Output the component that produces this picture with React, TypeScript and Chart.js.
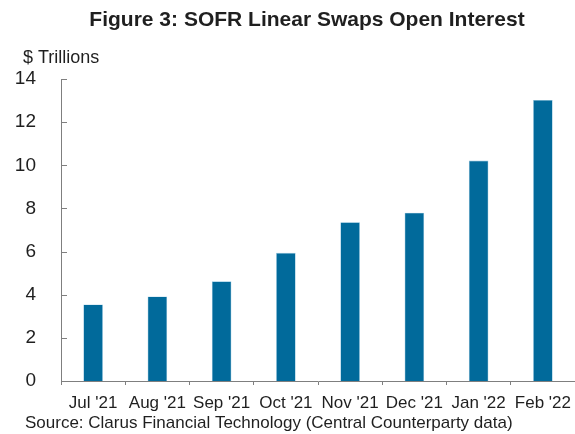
import React, { useEffect, useRef } from "react";
import { Chart, registerables } from "chart.js";

Chart.register(...registerables);

const categories = ["Jul '21", "Aug '21", "Sep '21", "Oct '21", "Nov '21", "Dec '21", "Jan '22", "Feb '22"];
const openInterest = [3.55, 3.92, 4.62, 5.94, 7.36, 7.8, 10.22, 13.03];
const yTicks = [0, 2, 4, 6, 8, 10, 12, 14];

const titleText = "Figure 3: SOFR Linear Swaps Open Interest";
const unitText = "$ Trillions";
const sourceText = "Source: Clarus Financial Technology (Central Counterparty data)";

const FONT = "'Liberation Sans', Arial, Helvetica, sans-serif";
const TEXT = "#1f1f1f";
const AXIS = "#7f7f7f";

const decorPlugin = {
  id: "decor",
  afterDraw(chart: any) {
    const ctx = chart.ctx;
    const y = chart.scales.y;
    const area = chart.chartArea;
    ctx.save();
    // inward y tick marks
    ctx.strokeStyle = AXIS;
    ctx.lineWidth = 1;
    yTicks.forEach((v) => {
      const py = Math.round(y.getPixelForValue(v)) + 0.5;
      ctx.beginPath();
      ctx.moveTo(area.left, py);
      ctx.lineTo(area.left + 6, py);
      ctx.stroke();
    });
    // texts
    ctx.fillStyle = TEXT;
    ctx.textBaseline = "middle";
    ctx.font = `bold 21px ${FONT}`;
    ctx.textAlign = "center";
    ctx.fillText(titleText, 307, 20);
    ctx.font = `18px ${FONT}`;
    ctx.textAlign = "left";
    ctx.fillText(unitText, 23, 58);
    ctx.font = `17px ${FONT}`;
    ctx.fillText(sourceText, 25, 423);
    ctx.restore();
  },
};

export default function App() {
  const ref = useRef<HTMLCanvasElement>(null);
  useEffect(() => {
    if (!ref.current) return;
    const chart = new Chart(ref.current, {
      type: "bar",
      data: {
        labels: categories,
        datasets: [
          {
            data: openInterest,
            backgroundColor: "#016a9b",
            borderColor: "#8fc3de",
            borderWidth: 0.6,
            categoryPercentage: 1,
            barPercentage: 0.305,
          },
        ],
      },
      options: {
        responsive: false,
        animation: false,
        devicePixelRatio: 1,
        layout: { padding: { top: 79, right: 0, bottom: 20, left: 0 } },
        plugins: { legend: { display: false }, tooltip: { enabled: false }, title: { display: false } },
        scales: {
          x: {
            grid: { display: true, offset: true, drawOnChartArea: false, drawTicks: true, tickLength: 4, color: AXIS },
            border: { display: true, color: AXIS, width: 1 },
            ticks: { color: TEXT, font: { family: FONT, size: 17 }, padding: 8, maxRotation: 0, autoSkip: false },
            afterFit: (s: any) => {
              s.height = 33;
              s.paddingLeft = 0;
              s.paddingRight = 0;
            },
          },
          y: {
            min: 0,
            max: 14,
            afterBuildTicks: (s: any) => {
              s.ticks = yTicks.map((v) => ({ value: v }));
            },
            grid: { display: false },
            border: { display: true, color: AXIS, width: 1 },
            ticks: { color: TEXT, font: { family: FONT, size: 19 }, padding: 17 },
            afterFit: (s: any) => {
              s.width = 61;
              s.paddingTop = 0;
              s.paddingBottom = 0;
            },
          },
        },
      },
      plugins: [decorPlugin],
    });
    return () => chart.destroy();
  }, []);
  return (
    <div style={{ position: "absolute", left: 0, top: 0, width: 575, height: 434, background: "#fff" }}>
      <canvas ref={ref} width={575} height={434} style={{ display: "block" }} />
    </div>
  );
}
